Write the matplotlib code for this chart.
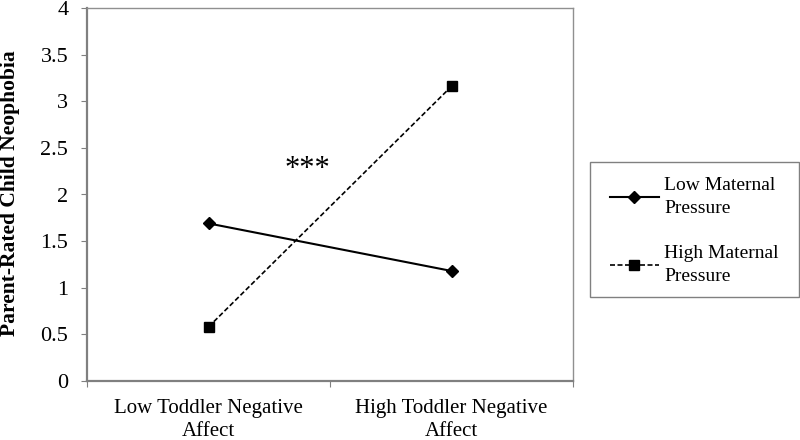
import matplotlib.pyplot as plt
from matplotlib.patches import Rectangle

# data
categories = ["Low Toddler Negative\nAffect", "High Toddler Negative\nAffect"]
low_pressure = [1.69, 1.18]
high_pressure = [0.58, 3.16]
y_ticks = [0, 0.5, 1, 1.5, 2, 2.5, 3, 3.5, 4]
y_tick_labels = ["0", "0.5", "1", "1.5", "2", "2.5", "3", "3.5", "4"]

plt.rcParams["font.family"] = ["Liberation Serif", "DejaVu Serif"]

fig = plt.figure(figsize=(8, 4.4), dpi=100)
ax = fig.add_axes([87 / 800, 59 / 440, 486 / 800, 373 / 440])

xpos = [0.5, 1.5]
ax.plot(xpos, low_pressure, color="black", lw=1.5, marker="D", ms=6,
        label="Low Maternal\nPressure")
ax.plot(xpos, high_pressure, color="black", lw=1.2, ls=(0, (3, 1.5)),
        marker="s", ms=7, label="High Maternal\nPressure")

ax.text(0.905, 2.27, "***", fontsize=22, ha="center", va="center")

ax.set_xlim(0, 2)
ax.set_ylim(0, 4)
ax.set_yticks(y_ticks)
ax.set_yticklabels(y_tick_labels, fontsize=16)
ax.set_xticks([0, 1, 2])
ax.set_xticklabels([])
ax.set_xticks(xpos, minor=True)
ax.set_xticklabels(categories, minor=True, fontsize=15, linespacing=1.25)
ax.tick_params(axis="x", which="minor", length=0, pad=13)
ax.tick_params(axis="x", which="major", length=4.5, color="#808080", direction="out")
ax.tick_params(axis="y", length=4.5, color="#808080", direction="out", pad=9)

for side in ["left", "bottom"]:
    ax.spines[side].set_color("#808080")
    ax.spines[side].set_linewidth(1.6)
for side in ["top", "right"]:
    ax.spines[side].set_color("#909090")
    ax.spines[side].set_linewidth(1.0)

fig.text(10 / 800, 1 - 193 / 440, "Parent-Rated Child Neophobia", fontsize=15.5,
         fontweight="bold", rotation=90, ha="center", va="center")

# legend without frame, box drawn separately
leg = fig.legend(loc="upper left", bbox_to_anchor=(610 / 800, 1 - 177 / 440),
                 borderaxespad=0, borderpad=0, frameon=False,
                 fontsize=14, handlelength=2.5, labelspacing=1.45,
                 handletextpad=0.3)
for t in leg.get_texts():
    t.set_linespacing(1.45)
fig.patches.append(Rectangle((590 / 800, 1 - 297 / 440), 209 / 800, 135 / 440,
                             transform=fig.transFigure, fill=False,
                             edgecolor="#808080", lw=1.0))

fig.savefig("out.png", dpi=100)
